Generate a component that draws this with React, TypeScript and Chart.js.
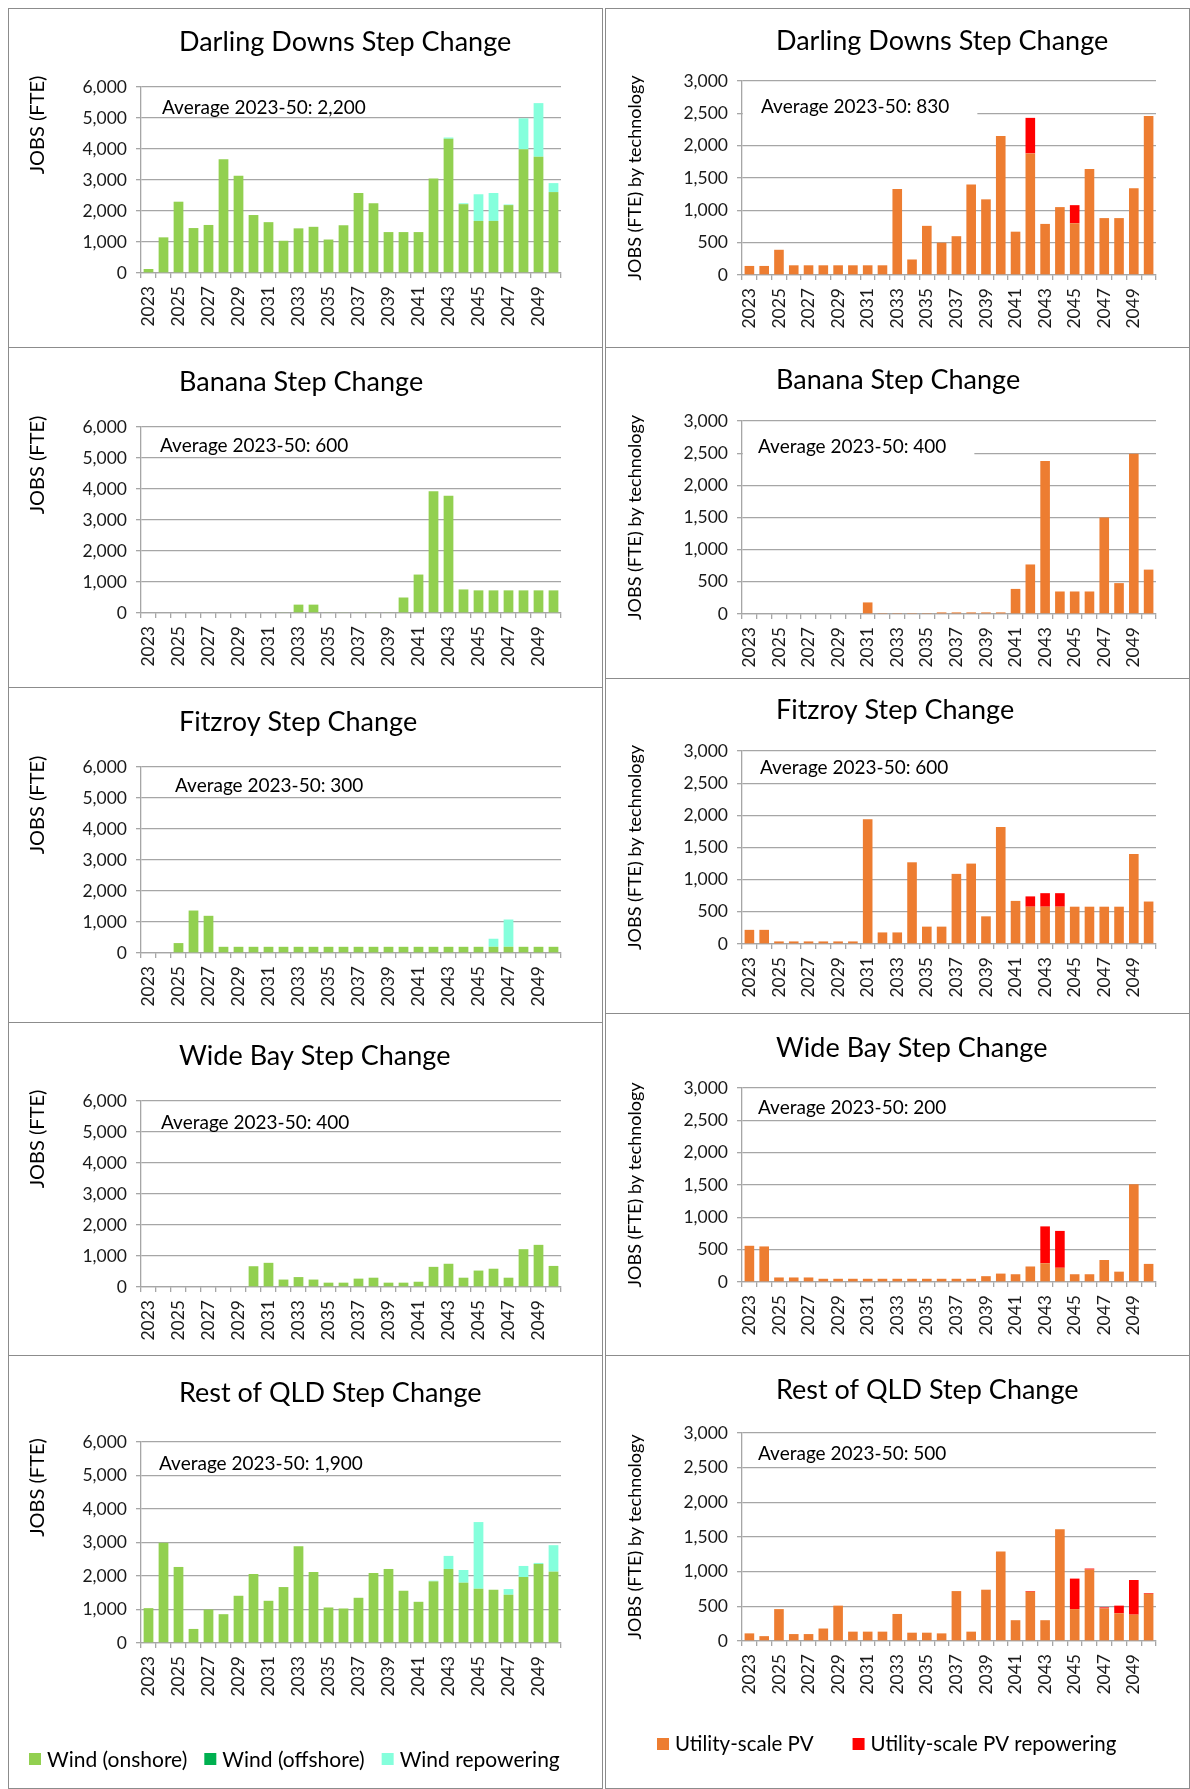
import React, { useEffect, useRef } from 'react';
import { Chart, registerables } from 'chart.js';

Chart.register(...registerables);
Chart.defaults.font.family = 'Lato';

// ---------------- DATA ----------------
const years = ['2023', '2024', '2025', '2026', '2027', '2028', '2029', '2030', '2031', '2032', '2033', '2034', '2035', '2036', '2037', '2038', '2039', '2040', '2041', '2042', '2043', '2044', '2045', '2046', '2047', '2048', '2049', '2050'];

const windTicks = [0, 1000, 2000, 3000, 4000, 5000, 6000];
const pvTicks = [0, 500, 1000, 1500, 2000, 2500, 3000];

const offshoreNone = [0, 0, 0, 0, 0, 0, 0, 0, 0, 0, 0, 0, 0, 0, 0, 0, 0, 0, 0, 0, 0, 0, 0, 0, 0, 0, 0, 0];

// Darling Downs
const ddOnshore = [130, 1150, 2300, 1450, 1550, 3670, 3140, 1870, 1640, 1040, 1440, 1490, 1080, 1540, 2580, 2250, 1320, 1320, 1320, 3050, 4330, 2220, 1680, 1680, 2190, 3990, 3750, 2610];
const ddRepower = [0, 0, 0, 0, 0, 0, 0, 0, 0, 0, 0, 0, 0, 0, 0, 0, 0, 0, 0, 0, 40, 30, 860, 900, 20, 1000, 1730, 290];
const ddPV = [140, 140, 390, 150, 150, 150, 150, 150, 150, 150, 1330, 240, 760, 500, 600, 1400, 1170, 2150, 670, 1880, 790, 1050, 800, 1640, 880, 880, 1340, 2460];
const ddPVRepower = [0, 0, 0, 0, 0, 0, 0, 0, 0, 0, 0, 0, 0, 0, 0, 0, 0, 0, 0, 550, 0, 0, 280, 0, 0, 0, 0, 0];

// Banana
const bnOnshore = [0, 0, 0, 0, 0, 0, 0, 0, 0, 25, 270, 270, 25, 25, 25, 25, 25, 500, 1240, 3930, 3780, 760, 730, 730, 730, 730, 730, 730];
const bnRepower = [0, 0, 0, 0, 0, 0, 0, 0, 0, 0, 0, 0, 0, 0, 0, 0, 0, 0, 0, 0, 0, 0, 0, 0, 0, 0, 0, 0];
const bnPV = [0, 0, 0, 0, 0, 0, 0, 0, 180, 15, 15, 15, 15, 25, 25, 25, 25, 25, 390, 770, 2380, 350, 350, 350, 1500, 480, 2490, 690];
const bnPVRepower = [0, 0, 0, 0, 0, 0, 0, 0, 0, 0, 0, 0, 0, 0, 0, 0, 0, 0, 0, 0, 0, 0, 0, 0, 0, 0, 0, 0];

// Fitzroy
const fzOnshore = [0, 0, 320, 1370, 1200, 200, 200, 200, 200, 200, 200, 200, 200, 200, 200, 200, 200, 200, 200, 200, 200, 200, 200, 200, 200, 200, 200, 200];
const fzRepower = [0, 0, 0, 0, 0, 0, 0, 0, 0, 0, 0, 0, 0, 0, 0, 0, 0, 0, 0, 0, 0, 0, 0, 260, 880, 0, 0, 0];
const fzPV = [220, 220, 40, 40, 40, 40, 40, 40, 1940, 180, 180, 1270, 270, 270, 1090, 1250, 430, 1820, 670, 580, 580, 580, 580, 580, 580, 580, 1400, 660];
const fzPVRepower = [0, 0, 0, 0, 0, 0, 0, 0, 0, 0, 0, 0, 0, 0, 0, 0, 0, 0, 0, 160, 210, 210, 0, 0, 0, 0, 0, 0];

// Wide Bay
const wbOnshore = [0, 0, 0, 0, 0, 0, 0, 670, 780, 240, 320, 240, 140, 140, 270, 300, 140, 140, 170, 650, 750, 300, 530, 590, 300, 1220, 1360, 680];
const wbRepower = [0, 0, 0, 0, 0, 0, 0, 0, 0, 0, 0, 0, 0, 0, 0, 0, 0, 0, 0, 0, 0, 0, 0, 0, 0, 0, 0, 0];
const wbPV = [560, 550, 70, 70, 70, 50, 50, 50, 50, 50, 50, 50, 50, 50, 50, 50, 90, 130, 120, 240, 290, 220, 120, 120, 340, 160, 1510, 280];
const wbPVRepower = [0, 0, 0, 0, 0, 0, 0, 0, 0, 0, 0, 0, 0, 0, 0, 0, 0, 0, 0, 0, 570, 570, 0, 0, 0, 0, 0, 0];

// Rest of QLD
const rqOnshore = [1040, 2990, 2270, 420, 1000, 860, 1410, 2060, 1260, 1670, 2890, 2120, 1060, 1030, 1350, 2090, 2210, 1560, 1230, 1840, 2210, 1800, 1620, 1590, 1440, 1970, 2360, 2130];
const rqRepower = [0, 0, 0, 0, 0, 0, 0, 0, 0, 0, 0, 0, 0, 0, 0, 0, 0, 0, 0, 20, 390, 380, 1990, 0, 170, 330, 30, 790];
const rqPV = [110, 70, 460, 100, 100, 180, 510, 135, 135, 135, 390, 120, 120, 110, 720, 135, 740, 1290, 300, 710, 300, 1610, 460, 1030, 470, 400, 380, 680];
const rqPVRepower = [0, 0, 0, 0, 0, 0, 0, 0, 0, 0, 0, 0, 0, 0, 0, 0, 0, 0, 0, 10, 0, 0, 440, 15, 15, 110, 500, 10];

// ---------------- STYLE ----------------
const FONT = 'Lato';
const TEXT = '#000000';
const TICK_COLOR = '#1a1a1a';
const GRID = '#a6a6a6';
const BORDER = '#8c8c8c';
const C_ONSHORE = '#92D050';
const C_OFFSHORE = '#00B050';
const C_WREPOWER = '#85FFDC';
const C_PV = '#ED7D31';
const C_PVREPOWER = '#FF0000';

const TITLE_SIZE = 27;
const TICK_SIZE = 17.5;
const AVG_SIZE = 19;
const YT_WIND_SIZE = 20;
const YT_PV_SIZE = 18;
const LEGEND_SIZE = 21;

const LEFT = { x: 8, w: 595, plotL: 141, plotR: 561, titleX: 179, yTitleX: 38 };
const RIGHT = { x: 605, w: 585, plotL: 742, plotR: 1156, titleX: 776, yTitleX: 635 };

type Col = typeof LEFT;
type Spec = {
  key: string;
  col: Col;
  top: number;
  h: number;
  plotTop: number;
  plotBottom: number;
  titleY: number;
  title: string;
  avg: string;
  avgX: number;
  avgY: number;
  kind: 'wind' | 'pv';
  series: number[][];
  legend?: { x: number; y: number; gap: number; size: number };
};

const specs: Spec[] = [
  { key: 'L1', col: LEFT, top: 8, h: 340, plotTop: 87, plotBottom: 273, titleY: 41, title: 'Darling Downs Step Change', avg: 'Average 2023-50: 2,200', avgX: 162, avgY: 107, kind: 'wind', series: [ddOnshore, offshoreNone, ddRepower] },
  { key: 'R1', col: RIGHT, top: 8, h: 340, plotTop: 81, plotBottom: 275, titleY: 40.5, title: 'Darling Downs Step Change', avg: 'Average 2023-50: 830', avgX: 761, avgY: 106, kind: 'pv', series: [ddPV, ddPVRepower] },
  { key: 'L2', col: LEFT, top: 347, h: 341, plotTop: 427, plotBottom: 613, titleY: 381, title: 'Banana Step Change', avg: 'Average 2023-50: 600', avgX: 160, avgY: 445, kind: 'wind', series: [bnOnshore, offshoreNone, bnRepower] },
  { key: 'R2', col: RIGHT, top: 347, h: 332, plotTop: 421, plotBottom: 614, titleY: 379, title: 'Banana Step Change', avg: 'Average 2023-50: 400', avgX: 758, avgY: 446, kind: 'pv', series: [bnPV, bnPVRepower] },
  { key: 'L3', col: LEFT, top: 687, h: 336, plotTop: 767, plotBottom: 953, titleY: 721, title: 'Fitzroy Step Change', avg: 'Average 2023-50: 300', avgX: 175, avgY: 785, kind: 'wind', series: [fzOnshore, offshoreNone, fzRepower] },
  { key: 'R3', col: RIGHT, top: 678, h: 336, plotTop: 751, plotBottom: 944, titleY: 709, title: 'Fitzroy Step Change', avg: 'Average 2023-50: 600', avgX: 760, avgY: 767, kind: 'pv', series: [fzPV, fzPVRepower] },
  { key: 'L4', col: LEFT, top: 1022, h: 334, plotTop: 1101, plotBottom: 1287, titleY: 1055, title: 'Wide Bay Step Change', avg: 'Average 2023-50: 400', avgX: 161, avgY: 1122, kind: 'wind', series: [wbOnshore, offshoreNone, wbRepower] },
  { key: 'R4', col: RIGHT, top: 1013, h: 343, plotTop: 1088, plotBottom: 1282, titleY: 1047, title: 'Wide Bay Step Change', avg: 'Average 2023-50: 200', avgX: 758, avgY: 1107, kind: 'pv', series: [wbPV, wbPVRepower] },
  { key: 'L5', col: LEFT, top: 1355, h: 434, plotTop: 1442, plotBottom: 1643, titleY: 1392, title: 'Rest of QLD Step Change', avg: 'Average 2023-50: 1,900', avgX: 159, avgY: 1463, kind: 'wind', series: [rqOnshore, offshoreNone, rqRepower], legend: { x: 29, y: 1759, gap: 17, size: 21 } },
  { key: 'R5', col: RIGHT, top: 1355, h: 434, plotTop: 1433, plotBottom: 1641, titleY: 1389, title: 'Rest of QLD Step Change', avg: 'Average 2023-50: 500', avgX: 758, avgY: 1453, kind: 'pv', series: [rqPV, rqPVRepower], legend: { x: 657, y: 1744, gap: 39, size: 20.5 } },
];

function makeDecor(p: Spec) {
  const ox = p.col.x + 1;
  const oy = p.top + 1;
  return {
    id: 'decor' + p.key,
    beforeDatasetsDraw(chart: any) {
      const ctx = chart.ctx as CanvasRenderingContext2D;
      const ca = chart.chartArea;
      ctx.save();
      ctx.font = `${AVG_SIZE}px ${FONT}`;
      const tx = p.avgX - ox;
      const ty = p.avgY - oy;
      const w = ctx.measureText(p.avg).width;
      ctx.fillStyle = '#ffffff';
      ctx.fillRect(ca.left + 1, ty - 12, tx + w + 28 - ca.left - 1, 21);
      ctx.fillStyle = TEXT;
      ctx.textBaseline = 'alphabetic';
      ctx.textAlign = 'left';
      ctx.fillText(p.avg, tx, ty + AVG_SIZE * 0.36);
      ctx.restore();
    },
    afterDraw(chart: any) {
      const ctx = chart.ctx as CanvasRenderingContext2D;
      const ca = chart.chartArea;
      ctx.save();
      // title
      ctx.fillStyle = TEXT;
      ctx.textAlign = 'left';
      ctx.textBaseline = 'alphabetic';
      ctx.font = `${TITLE_SIZE}px ${FONT}`;
      ctx.fillText(p.title, p.col.titleX - ox, p.titleY - oy + TITLE_SIZE * 0.36);
      // y axis title
      const isWind = p.kind === 'wind';
      const ySize = isWind ? YT_WIND_SIZE : YT_PV_SIZE;
      const yText = isWind ? 'JOBS (FTE)' : 'JOBS (FTE) by technology';
      const cy = (ca.top + ca.bottom) / 2 + (isWind ? -55 : 0);
      ctx.save();
      ctx.translate(p.col.yTitleX - ox, cy);
      ctx.rotate(-Math.PI / 2);
      ctx.textAlign = 'center';
      ctx.textBaseline = 'middle';
      ctx.font = `${ySize}px ${FONT}`;
      ctx.fillText(yText, 0, 0);
      ctx.restore();
      // legend
      if (p.legend) {
        const lg = p.legend;
        let x = lg.x - ox;
        const y = lg.y - oy;
        ctx.font = `${lg.size}px ${FONT}`;
        ctx.textAlign = 'left';
        ctx.textBaseline = 'alphabetic';
        chart.data.datasets.forEach((ds: any) => {
          ctx.fillStyle = ds.backgroundColor;
          ctx.fillRect(x, y - 6, 12, 12);
          ctx.fillStyle = TEXT;
          const tw = ctx.measureText(ds.label).width;
          ctx.fillText(ds.label, x + 18, y + lg.size * 0.36);
          x += 18 + tw + lg.gap;
        });
      }
      ctx.restore();
    },
  };
}

function buildDatasets(p: Spec) {
  if (p.kind === 'wind') {
    return [
      { label: 'Wind (onshore)', data: p.series[0], backgroundColor: C_ONSHORE },
      { label: 'Wind (offshore)', data: p.series[1], backgroundColor: C_OFFSHORE },
      { label: 'Wind repowering', data: p.series[2], backgroundColor: C_WREPOWER },
    ];
  }
  return [
    { label: 'Utility-scale PV', data: p.series[0], backgroundColor: C_PV },
    { label: 'Utility-scale PV repowering', data: p.series[1], backgroundColor: C_PVREPOWER },
  ];
}

function Panel({ p }: { p: Spec }) {
  const ref = useRef<HTMLCanvasElement | null>(null);
  const cw = p.col.w - 2;
  const chh = p.h - 2;
  useEffect(() => {
    if (!ref.current) return;
    const ox = p.col.x + 1;
    const oy = p.top + 1;
    const localL = p.col.plotL - ox;
    const localR = p.col.plotR - ox;
    const localT = p.plotTop - oy;
    const localB = p.plotBottom - oy;
    const ticks = p.kind === 'wind' ? windTicks : pvTicks;
    const chart = new Chart(ref.current, {
      type: 'bar',
      data: { labels: years, datasets: buildDatasets(p) as any },
      options: {
        responsive: false,
        animation: false,
        devicePixelRatio: 1,
        events: [],
        layout: { padding: { top: localT, right: cw - localR, bottom: 0, left: 0 } },
        datasets: { bar: { categoryPercentage: 1, barPercentage: 0.65, borderWidth: 0 } },
        plugins: {
          legend: { display: false },
          title: { display: false },
          tooltip: { enabled: false },
        },
        scales: {
          x: {
            stacked: true,
            offset: true,
            grid: { display: true, offset: true, drawOnChartArea: false, drawTicks: true, tickLength: 5, color: GRID, lineWidth: 1.3 },
            border: { display: true, color: GRID, width: 1.3 },
            ticks: {
              autoSkip: false,
              minRotation: 90,
              maxRotation: 90,
              padding: 8,
              color: TICK_COLOR,
              font: { family: FONT, size: TICK_SIZE },
              callback: (_v: any, i: number) => (i % 2 === 0 ? years[i] : ''),
            },
            afterFit: (s: any) => {
              s.height = chh - localB;
            },
          },
          y: {
            stacked: true,
            min: ticks[0],
            max: ticks[ticks.length - 1],
            grid: { color: GRID, tickLength: 5, drawTicks: true, lineWidth: 1.3 },
            border: { display: true, color: GRID, width: 1.3 },
            ticks: {
              stepSize: ticks[1] - ticks[0],
              padding: 9,
              color: TICK_COLOR,
              font: { family: FONT, size: TICK_SIZE },
              callback: (v: any) => Number(v).toLocaleString('en-US'),
            },
            afterFit: (s: any) => {
              s.width = localL;
            },
          },
        },
      },
      plugins: [makeDecor(p)],
    });
    return () => chart.destroy();
  }, []);
  return (
    <div
      style={{
        position: 'absolute',
        left: p.col.x,
        top: p.top,
        width: p.col.w,
        height: p.h,
        border: `1px solid ${BORDER}`,
        boxSizing: 'border-box',
        background: '#ffffff',
      }}
    >
      <canvas ref={ref} width={cw} height={chh} style={{ display: 'block', width: cw, height: chh }} />
    </div>
  );
}

export default function App() {
  return (
    <div style={{ position: 'absolute', left: 0, top: 0, width: 1190, height: 1789, overflow: 'hidden', background: '#ffffff' }}>
      {specs.map((p) => (
        <Panel key={p.key} p={p} />
      ))}
    </div>
  );
}
